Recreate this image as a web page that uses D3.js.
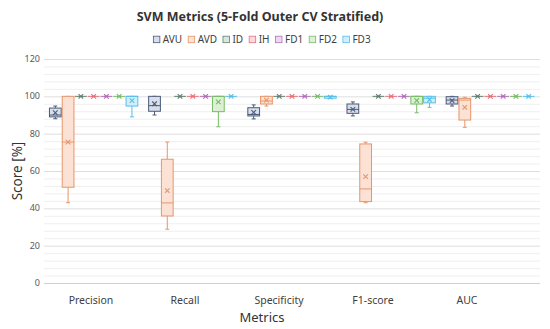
<!DOCTYPE html>
<html><head><meta charset="utf-8">
<script src="https://cdn.jsdelivr.net/npm/d3@7/dist/d3.min.js"></script>
<style>body{margin:0;background:#fff}svg{display:block}text{font-family:"Noto Sans",Inter,sans-serif}</style>
</head><body>
<svg id="c" width="550" height="329"></svg>
<script>
const metrics = ["Precision","Recall","Specificity","F1-score","AUC"];
const seriesNames = ["AVU","AVD","ID","IH","FD1","FD2","FD3"];
const yTicks = [0,20,40,60,80,100,120];
// each entry: [min, q1, median, q3, max, mean]
const AVU = [[88,89,90,93.7,94.8,91.2],[90,92,95,100,100,96],[87.9,89.5,90.3,93.9,95.4,91.4],[89.5,90.9,93,95.9,97,93],[94.8,95.9,98,99.8,100,97.7]];
const AVD = [[43,51.3,75.5,100,100,75.5],[28.8,35.9,42.9,66.3,75.5,49.5],[94.8,95.9,97.5,100,100,98],[43,43.6,50.4,74.5,75.4,57],[83.4,87.3,98,98.9,99.5,94.1]];
const ID  = [[100,100,100,100,100,100],[100,100,100,100,100,100],[100,100,100,100,100,100],[100,100,100,100,100,100],[100,100,100,100,100,100]];
const IH  = [[100,100,100,100,100,100],[100,100,100,100,100,100],[100,100,100,100,100,100],[100,100,100,100,100,100],[100,100,100,100,100,100]];
const FD1 = [[100,100,100,100,100,100],[100,100,100,100,100,100],[100,100,100,100,100,100],[100,100,100,100,100,100],[100,100,100,100,100,100]];
const FD2 = [[100,100,100,100,100,100],[83.7,91.8,100,100,100,97],[100,100,100,100,100,100],[91.2,95.9,100,100,100,97.8],[100,100,100,100,100,100]];
const FD3 = [[89,94.8,100,100,100,97.7],[100,100,100,100,100,100],[98.9,99,100,100,100,99.6],[94.1,96.5,99,100,100,98.2],[100,100,100,100,100,100]];
const seriesData = [AVU,AVD,ID,IH,FD1,FD2,FD3];
const strokes = ["#4A5A7A","#E8956A","#62806E","#E8707A","#B070B8","#78BC68","#58BEEA"];
const fills   = ["#D9DFEA","#FBE2D4","#DCE6DF","#FADADF","#EEDAF0","#DDF0D6","#D2EEFA"];

const svg = d3.select("#c");
const L=44, R=540, T=59, B=283;
const y = d3.scaleLinear().domain([0,120]).range([B,T]);
const x = d3.scaleBand().domain(metrics).range([L,R]).paddingInner(0.109).paddingOuter(0.055);
const xs = d3.scaleBand().domain(seriesNames).range([0,x.bandwidth()]).paddingInner(0.08);
const xLab = d3.scaleBand().domain(metrics).range([44,514]);

// minor grid
svg.append("g").selectAll("line").data(d3.range(0,121,4).filter(v=>v%20)).join("line")
  .attr("x1",L).attr("x2",R).attr("y1",d=>y(d)+0.5).attr("y2",d=>y(d)+0.5)
  .attr("stroke","#EFEFEF").attr("stroke-width",1);
// major grid
svg.append("g").selectAll("line").data(yTicks).join("line")
  .attr("x1",L).attr("x2",R).attr("y1",d=>y(d)+0.5).attr("y2",d=>y(d)+0.5)
  .attr("stroke",d=>d===0?"#D0D0D0":"#DEDEDE").attr("stroke-width",1);

// y tick labels
svg.append("g").selectAll("text").data(yTicks).join("text")
  .attr("x",40).attr("y",d=>y(d)).attr("dy","0.35em").attr("text-anchor","end")
  .attr("font-size",9).attr("fill","#595959").text(d=>d);

// x labels
svg.append("g").selectAll("text").data(metrics).join("text")
  .attr("x",d=>xLab(d)+xLab.bandwidth()/2).attr("y",300).attr("dy","0.35em").attr("text-anchor","middle")
  .attr("font-size",10.5).attr("fill","#404040").text(d=>d);

// boxes
seriesNames.forEach((s,si)=>{
  const g = svg.append("g");
  metrics.forEach((m,mi)=>{
    const [mn,q1,md,q3,mx,mean] = seriesData[si][mi];
    const x0 = x(m)+xs(s), w = xs.bandwidth(), cx = x0+w/2;
    const gg = g.append("g").attr("stroke",strokes[si]).attr("fill","none").attr("stroke-width",1);
    gg.append("line").attr("x1",cx).attr("x2",cx).attr("y1",y(q3)).attr("y2",y(mx));
    gg.append("line").attr("x1",cx).attr("x2",cx).attr("y1",y(q1)).attr("y2",y(mn));
    gg.append("line").attr("x1",cx-2).attr("x2",cx+2).attr("y1",y(mx)).attr("y2",y(mx));
    gg.append("line").attr("x1",cx-2).attr("x2",cx+2).attr("y1",y(mn)).attr("y2",y(mn));
    gg.append("rect").attr("x",x0).attr("y",y(q3)).attr("width",w).attr("height",Math.max(0,y(q1)-y(q3)))
      .attr("fill",fills[si]);
    gg.append("line").attr("x1",x0).attr("x2",x0+w).attr("y1",y(md)).attr("y2",y(md));
    const my = y(mean), r=2.3;
    gg.append("path").attr("d",`M${cx-r},${my-r}L${cx+r},${my+r}M${cx-r},${my+r}L${cx+r},${my-r}`).attr("stroke-width",1.1);
  });
});

// title
svg.append("text").attr("x",260).attr("y",17).attr("dy","0.35em").attr("text-anchor","middle")
  .attr("font-size",12.5).attr("font-weight","bold").attr("fill","#333").text("SVM Metrics (5-Fold Outer CV Stratified)");

// legend, laid out from measured text widths
const lg = svg.append("g");
const items = seriesNames.map((s,i)=>{
  const t = lg.append("text").attr("y",39.5).attr("dy","0.35em").attr("font-size",10)
    .attr("fill","#404040").text(s);
  return {t, w: t.node().getComputedTextLength(), i};
});
const icon=6.5, gapA=3, gapB=6;
const total = d3.sum(items, d=>icon+gapA+d.w) + gapB*(items.length-1);
let cur = 262 - total/2;
items.forEach(d=>{
  lg.append("rect").attr("x",cur).attr("y",36.2).attr("width",icon).attr("height",icon)
    .attr("fill",fills[d.i]).attr("stroke",strokes[d.i]).attr("stroke-width",0.8);
  d.t.attr("x",cur+icon+gapA);
  cur += icon+gapA+d.w+gapB;
});

// axis titles
svg.append("text").attr("x",262).attr("y",317).attr("dy","0.35em").attr("text-anchor","middle")
  .attr("font-size",13).attr("fill","#333").text("Metrics");
svg.append("text").attr("transform","translate(17,171) rotate(-90)").attr("dy","0.35em").attr("text-anchor","middle")
  .attr("font-size",13.5).attr("fill","#333").text("Score [%]");
</script>
</body></html>
